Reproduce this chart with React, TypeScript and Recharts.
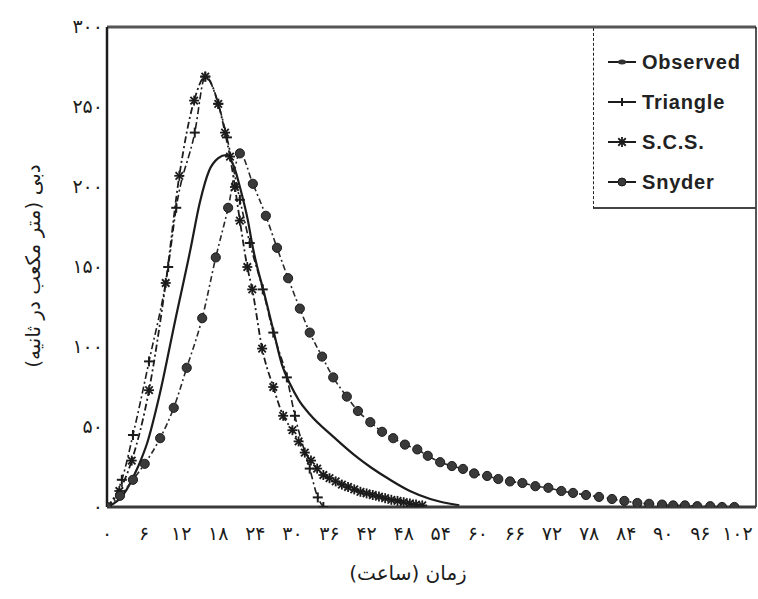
import React from 'react';
import { LineChart, Line, XAxis, YAxis, ReferenceLine, Legend } from 'recharts';

// [time (h), discharge (m3/s)]
const observed: [number, number][] = [
  [0, 0], [2.5, 7], [5, 25], [6.5, 40], [8.5, 70], [11, 116], [13.5, 161], [15, 190],
  [16.5, 210], [18, 218], [19.3, 220], [20.7, 211], [21.5, 200], [22.8, 179], [23.6, 162],
  [24.3, 150], [25.2, 137], [27, 109], [28.3, 89], [29.6, 77], [31, 67], [32.8, 58],
  [36.6, 44], [40.5, 31], [42.6, 25], [45.8, 17], [49, 10], [52.3, 5], [57, 1],
];

const triangle: [number, number][] = [
  [0, 0], [2.4, 17], [4.2, 45], [6.8, 91], [9.9, 150], [11.2, 187], [14.2, 234], [15.9, 269],
  [18, 252], [19.4, 231], [21.5, 192], [23.1, 165], [25.2, 136], [26.9, 109], [29.1, 81],
  [30.4, 57], [32.8, 24], [34.1, 6], [35, 0],
];

const scs: [number, number][] = [
  [0, 0], [2, 10], [4, 29], [6.8, 73], [9.5, 140], [11.7, 207], [14.1, 254], [15.9, 269],
  [18, 252], [19.1, 234], [19.9, 219], [20.7, 200], [21.5, 179], [22.7, 150], [23.5, 136],
  [25.1, 99], [26.9, 75], [28.5, 57], [30, 48], [31, 41], [32, 34], [33, 29], [34, 24],
  [35, 20], [36, 18], [37, 16], [38, 14], [39, 12.5], [40, 11], [41, 9.5], [42, 8.5],
  [43, 7.5], [44, 6.5], [45, 5.5], [46, 4.5], [47, 3.8], [48, 3], [49, 2.2], [50, 1.5], [51, 1],
];

const snyder: [number, number][] = [
  [0, 0], [2.1, 7], [4.2, 17], [6.1, 27], [8.6, 43], [10.8, 62], [12.9, 87], [15.4, 118],
  [17.6, 156], [19.6, 187], [21.5, 221], [23.6, 202], [25.7, 182], [27.5, 162], [29.3, 143],
  [31.2, 124], [32.8, 109], [34.8, 94], [36.6, 81], [38.8, 69], [40.6, 60], [42.6, 53],
  [44.5, 47], [46.3, 43], [48.2, 39], [50.2, 36], [51.9, 32], [53.9, 28], [55.8, 25.6],
  [57.6, 23.8], [59.4, 21], [61.5, 19.4], [63.3, 17.5], [65.2, 16], [67.2, 15], [69.3, 13],
  [71.4, 12], [73.5, 10], [75.4, 8.8], [77.5, 7.5], [79.6, 6.3], [81.7, 5], [83.7, 3.8],
  [85.8, 2.5], [87.7, 2], [89.8, 1.5], [91.6, 1], [93.5, 1], [95.5, 0.5], [97.6, 0.5],
  [99.5, 0], [101.5, 0],
];

const xTicks = [0, 6, 12, 18, 24, 30, 36, 42, 48, 54, 60, 66, 72, 78, 84, 90, 96, 102];
const yTicks = [0, 50, 100, 150, 200, 250, 300];

const seriesNames = ['Observed', 'Triangle', 'S.C.S.', 'Snyder'];
const xTitle = 'زمان (ساعت)';
const yTitle = 'دبی (متر مکعب در ثانیه)';

const faDigits = '۰۱۲۳۴۵۶۷۸۹';
const toFa = (n: number) => String(n).replace(/\d/g, (d) => faDigits[Number(d)]);
const toPts = (arr: [number, number][]) => arr.map(([t, q]) => ({ t, q }));

const INK = '#1c1c1c';
const FA_FONT = '"DejaVu Sans", sans-serif';

const PlusMark = ({ cx, cy, s = 5 }: any) => (
  <g stroke={INK} strokeWidth={2}>
    <line x1={cx - s} y1={cy} x2={cx + s} y2={cy} />
    <line x1={cx} y1={cy - s} x2={cx} y2={cy + s} />
  </g>
);

const StarMark = ({ cx, cy, s = 5 }: any) => (
  <g stroke={INK} strokeWidth={1.8}>
    <line x1={cx - s} y1={cy} x2={cx + s} y2={cy} />
    <line x1={cx} y1={cy - s} x2={cx} y2={cy + s} />
    <line x1={cx - s * 0.75} y1={cy - s * 0.75} x2={cx + s * 0.75} y2={cy + s * 0.75} />
    <line x1={cx - s * 0.75} y1={cy + s * 0.75} x2={cx + s * 0.75} y2={cy - s * 0.75} />
  </g>
);

const CircleMark = ({ cx, cy, r = 4.6 }: any) => (
  <circle cx={cx} cy={cy} r={r} fill="#3a3a3a" stroke={INK} strokeWidth={1} />
);

const dotOf = (Comp: any) => (props: any) => {
  const { cx, cy, index } = props;
  if (cx == null || cy == null) return <g key={`e${index}`} />;
  return <Comp key={`m${index}`} cx={cx} cy={cy} />;
};

const XTick = ({ x, y, payload }: any) => (
  <text x={x} y={y + 25} textAnchor="middle" fontSize={19} fontFamily={FA_FONT} fill={INK}>
    {toFa(payload.value)}
  </text>
);

const YTick = ({ x, y, payload }: any) => (
  <text x={x + 4} y={y + 6} textAnchor="end" fontSize={19} fontFamily={FA_FONT} fill={INK}>
    {toFa(payload.value)}
  </text>
);

const legendIcon = (i: number) => {
  const line = <line x1={0} y1={8} x2={28} y2={8} stroke={INK} strokeWidth={2} />;
  let mark: any = <ellipse cx={14} cy={8} rx={4} ry={2.5} fill="#333" />;
  if (i === 1) mark = <PlusMark cx={14} cy={8} s={4} />;
  if (i === 2) mark = <StarMark cx={14} cy={8} s={5} />;
  if (i === 3) mark = <CircleMark cx={14} cy={8} r={4} />;
  return (
    <svg width={30} height={16} style={{ display: 'block' }}>
      {line}
      {mark}
    </svg>
  );
};

const renderLegend = () => (
  <div
    style={{
      width: 163,
      height: 181,
      boxSizing: 'border-box',
      borderLeft: '1.5px dashed #222',
      borderBottom: '2px solid #444',
      paddingTop: 14,
    }}
  >
    {seriesNames.map((name, i) => (
      <div key={name} style={{ display: 'flex', alignItems: 'center', height: 40, paddingLeft: 14 }}>
        {legendIcon(i)}
        <span
          style={{
            marginLeft: 4,
            fontFamily: '"Liberation Sans", Arial, sans-serif',
            fontWeight: 'bold',
            fontSize: 20,
            letterSpacing: 0.8,
            color: '#222',
          }}
        >
          {name}
        </span>
      </div>
    ))}
  </div>
);

export default function App() {
  return (
    <div style={{ position: 'absolute', left: 0, top: 0, width: 758, height: 599, background: '#fff' }}>
      <LineChart width={758} height={599} margin={{ top: 27, right: 2, left: 0, bottom: 32 }}>
        <XAxis
          type="number"
          dataKey="t"
          domain={[0, 105]}
          ticks={xTicks}
          interval={0}
          allowDataOverflow
          tickLine={false}
          axisLine={{ stroke: '#3a3a3a', strokeWidth: 3 }}
          tick={<XTick />}
          height={60}
        />
        <YAxis
          type="number"
          dataKey="q"
          domain={[0, 300]}
          ticks={yTicks}
          interval={0}
          allowDataOverflow
          tickLine={false}
          axisLine={{ stroke: INK, strokeWidth: 2.5 }}
          tick={<YTick />}
          width={107}
        />
        <ReferenceLine y={300} stroke="#555" strokeWidth={3} />
        <ReferenceLine x={105} stroke={INK} strokeWidth={1.5} />
        <Line
          data={toPts(observed)}
          dataKey="q"
          name={seriesNames[0]}
          type="monotone"
          stroke={INK}
          strokeWidth={2.2}
          dot={false}
          isAnimationActive={false}
        />
        <Line
          data={toPts(triangle)}
          dataKey="q"
          name={seriesNames[1]}
          type="monotone"
          stroke={INK}
          strokeWidth={1.6}
          strokeDasharray="7 3 2 3"
          dot={dotOf(PlusMark)}
          isAnimationActive={false}
        />
        <Line
          data={toPts(scs)}
          dataKey="q"
          name={seriesNames[2]}
          type="monotone"
          stroke={INK}
          strokeWidth={1.8}
          strokeDasharray="7 3 2 3"
          dot={dotOf(StarMark)}
          isAnimationActive={false}
        />
        <Line
          data={toPts(snyder)}
          dataKey="q"
          name={seriesNames[3]}
          type="monotone"
          stroke="#2a2a2a"
          strokeWidth={1.6}
          strokeDasharray="6 3 2 3"
          dot={dotOf(CircleMark)}
          isAnimationActive={false}
        />
        <Legend
          layout="vertical"
          align="center"
          verticalAlign="middle"
          content={renderLegend}
          wrapperStyle={{ position: 'absolute', left: 593, top: 28, width: 163, height: 181 }}
        />
      </LineChart>
      <svg
        width={758}
        height={599}
        style={{ position: 'absolute', left: 0, top: 0, pointerEvents: 'none' }}
      >
        <text
          x={408}
          y={580}
          textAnchor="middle"
          fontSize={20}
          fontFamily={FA_FONT}
          fill={INK}
          direction="rtl"
          style={{ direction: 'rtl', unicodeBidi: 'embed' } as any}
        >
          {xTitle}
        </text>
        <text
          x={0}
          y={0}
          transform="translate(40, 266) rotate(-90)"
          textAnchor="middle"
          fontSize={20}
          fontFamily={FA_FONT}
          fill={INK}
          direction="rtl"
          style={{ direction: 'rtl', unicodeBidi: 'embed' } as any}
        >
          {yTitle}
        </text>
      </svg>
    </div>
  );
}
